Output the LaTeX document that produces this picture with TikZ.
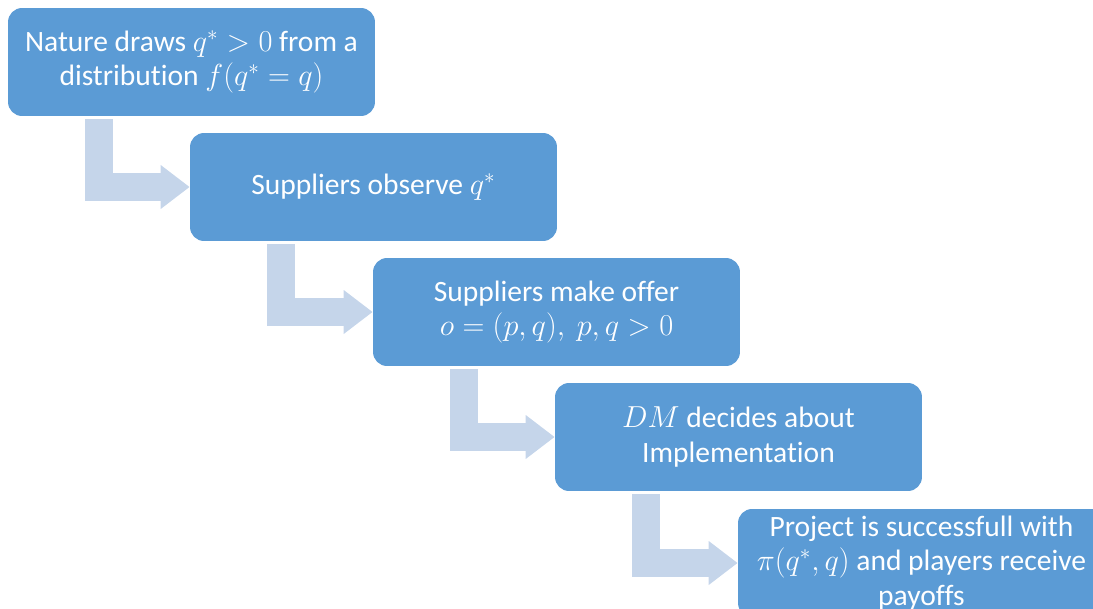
\documentclass[tikz,border=0pt]{standalone}
\usepackage{amsmath}
\usepackage{fontspec}
\setmainfont[Ligatures=NoCommon]{Carlito}
\usepackage{tikz}
\usetikzlibrary{arrows.meta,calc}

\definecolor{stageblue}{HTML}{5B9BD5}
\definecolor{linkblue}{HTML}{C5D5EA}

\begin{document}
\begin{tikzpicture}[x=0.02cm, y=-0.02cm]
	\tikzstyle{stage}=[rectangle, rounded corners=0.28cm, fill=stageblue, text=white, inner sep=0pt,
		minimum width=7.34cm, minimum height=2.16cm, align=center, font=\fontsize{16.8}{19.5}\selectfont]
	\tikzstyle{steplink}=[draw=linkblue, line width=0.56cm, line join=miter,
		-{Triangle[length=0.58cm, width=0.84cm]}]
	
	\clip (0,0) rectangle (1093,609);
	
	\node[stage] (nature)  at (191.5, 62)  {Nature draws $q^* > 0$ from a\\ distribution $f(q^* = q)$};
	\node[stage] (observe) at (373.5, 187) {Suppliers observe $q^*$};
	\node[stage] (offer)   at (556.5, 312) {Suppliers make offer\\ $o = (p,q),\ p,q > 0$};
	\node[stage] (decide)  at (738.5, 437) {$DM$ decides about\\ Implementation};
	\node[stage] (payoff)  at (921.5, 563) {Project is successfull with\\ $\pi(q^*,q)$ and players receive\\ payoffs};
	
	% bent arrows from the bottom of one stage to the side of the next
	\draw[steplink] ($(nature.south west)+(91,3)$)  |- (observe.west);
	\draw[steplink] ($(observe.south west)+(91,3)$) |- (offer.west);
	\draw[steplink] ($(offer.south west)+(91,3)$)   |- (decide.west);
	\draw[steplink] ($(decide.south west)+(91,3)$)  |- (payoff.west);
\end{tikzpicture}
\end{document}
